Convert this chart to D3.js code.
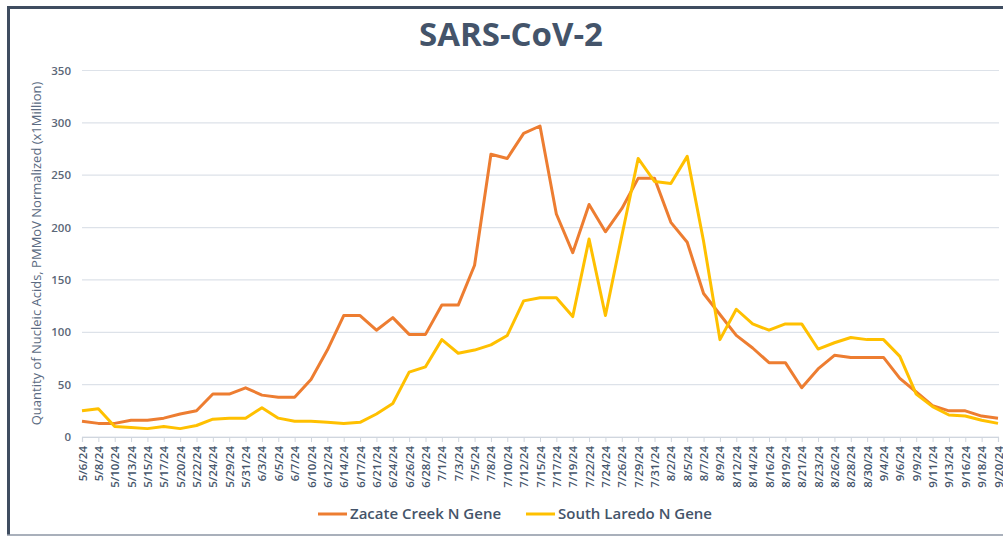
<!DOCTYPE html>
<html>
<head>
<meta charset="utf-8">
<script src="https://cdn.jsdelivr.net/npm/d3@7"></script>
<style>
  body { margin: 0; background: #fff; }
  svg { display: block; }
</style>
</head>
<body>
<div id="chart"></div>
<script>
const dates = ['5/6/24','5/8/24','5/10/24','5/13/24','5/15/24','5/17/24','5/20/24','5/22/24','5/24/24','5/29/24','5/31/24',
  '6/3/24','6/5/24','6/7/24','6/10/24','6/12/24','6/14/24','6/17/24','6/21/24','6/24/24','6/26/24','6/28/24',
  '7/1/24','7/3/24','7/5/24','7/8/24','7/10/24','7/12/24','7/15/24','7/17/24','7/19/24','7/22/24','7/24/24','7/26/24','7/29/24','7/31/24',
  '8/2/24','8/5/24','8/7/24','8/9/24','8/12/24','8/14/24','8/16/24','8/19/24','8/21/24','8/23/24','8/26/24','8/28/24','8/30/24',
  '9/4/24','9/6/24','9/9/24','9/11/24','9/13/24','9/16/24','9/18/24','9/20/24'];

const zacate = [15,13,13,16,16,18,22,25,41,41,47,
  40,38,38,55,83,116,116,102,114,98,98,
  126,126,164,270,266,290,297,213,176,222,196,218,247,247,
  205,186,137,117,97,85,71,71,47,65,78,76,76,
  76,56,43,30,25,25,20,18];

const southLaredo = [25,27,10,9,8,10,8,11,17,18,18,
  28,18,15,15,14,13,14,22,32,62,67,
  93,80,83,88,97,130,133,133,115,189,116,192,266,244,
  242,268,187,93,122,108,102,108,108,84,90,95,93,
  93,77,41,29,21,20,16,13];

const yTicks = [0, 50, 100, 150, 200, 250, 300, 350];

const series = [
  { name: 'Zacate Creek N Gene', values: zacate, color: '#ED7D31' },
  { name: 'South Laredo N Gene', values: southLaredo, color: '#FFC000' }
];

const width = 1003, height = 536;
const textColor = '#44546A';
const font = '"Open Sans", "Noto Sans", sans-serif';

const svg = d3.select('#chart').append('svg')
  .attr('width', width)
  .attr('height', height)
  .style('font-family', font);

svg.append('rect').attr('width', width).attr('height', height).attr('fill', '#fff');

// frame
svg.append('line').attr('x1', 7).attr('x2', width).attr('y1', 7.5).attr('y2', 7.5)
  .attr('stroke', '#3F4D60').attr('stroke-width', 3);
svg.append('line').attr('x1', 8.5).attr('x2', 8.5).attr('y1', 6).attr('y2', 535)
  .attr('stroke', '#3F4D60').attr('stroke-width', 3);
svg.append('line').attr('x1', 7).attr('x2', width).attr('y1', 535).attr('y2', 535)
  .attr('stroke', '#8C96A4').attr('stroke-width', 1.5);

const x = d3.scalePoint().domain(dates).range([82, 998]);
const y = d3.scaleLinear().domain([0, 350]).range([437, 70.5]);

// gridlines
svg.append('g')
  .selectAll('line')
  .data(yTicks)
  .join('line')
  .attr('x1', 82).attr('x2', 999)
  .attr('y1', d => y(d)).attr('y2', d => y(d))
  .attr('stroke', '#DDE2E9').attr('stroke-width', 1.2);

// y axis labels
const yAxis = svg.append('g')
  .attr('transform', 'translate(71,0)')
  .call(d3.axisLeft(y).tickValues(yTicks).tickSize(0).tickPadding(0));
yAxis.select('.domain').remove();
yAxis.selectAll('text')
  .attr('fill', '#5B6778')
  .style('font-size', '11.5px')
  .style('font-weight', 600)
  .style('font-family', font);

// x axis
const xAxis = svg.append('g')
  .attr('transform', `translate(0,${y(0)})`)
  .call(d3.axisBottom(x).tickSize(5).tickPadding(4));
xAxis.select('.domain').attr('stroke', '#D0D6DE').attr('stroke-width', 1.2);
xAxis.selectAll('.tick line').attr('stroke', '#D0D6DE');
xAxis.selectAll('text')
  .attr('fill', textColor)
  .style('font-size', '11.5px')
  .style('font-weight', 600)
  .style('font-family', font)
  .attr('text-anchor', 'end')
  .attr('transform', 'rotate(-90)')
  .attr('x', -9)
  .attr('y', 0)
  .attr('dy', '0.35em');

// y axis title
svg.append('text')
  .attr('transform', `translate(41,${(70 + 437) / 2}) rotate(-90)`)
  .attr('text-anchor', 'middle')
  .attr('fill', '#5B6B82')
  .style('font-size', '13px')
  .text('Quantity of Nucleic Acids, PMMoV Normalized (x1Million)');

// title
svg.append('text')
  .attr('x', 511).attr('y', 46)
  .attr('text-anchor', 'middle')
  .attr('fill', '#44546A')
  .style('font-size', '33px')
  .style('font-weight', 700)
  .text('SARS-CoV-2');

// lines
const line = d3.line()
  .x((d, i) => x(dates[i]))
  .y(d => y(d));

svg.append('g')
  .selectAll('path')
  .data(series)
  .join('path')
  .attr('d', d => line(d.values))
  .attr('fill', 'none')
  .attr('stroke', d => d.color)
  .attr('stroke-width', 3)
  .attr('stroke-linejoin', 'round');

// legend
const legendPos = [318, 526];
const legend = svg.append('g')
  .selectAll('g')
  .data(series)
  .join('g')
  .attr('transform', (d, i) => `translate(${legendPos[i]},514)`);
legend.append('line')
  .attr('x1', 0).attr('x2', 29)
  .attr('stroke', d => d.color).attr('stroke-width', 3);
legend.append('text')
  .attr('x', 32).attr('dy', '0.35em')
  .attr('fill', textColor)
  .style('font-size', '15px')
  .style('font-weight', 600)
  .text(d => d.name);
</script>
</body>
</html>
